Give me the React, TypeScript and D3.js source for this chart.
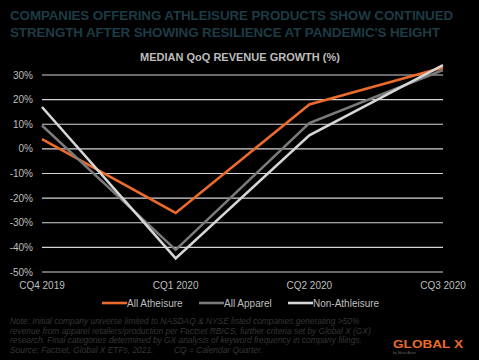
import React from "react";
import * as d3 from "d3";

const categories = ["CQ4 2019", "CQ1 2020", "CQ2 2020", "CQ3 2020"];
const allAthleisure = [4, -26, 18, 33];
const allApparel = [9.5, -41, 10.5, 32];
const nonAthleisure = [17, -44.5, 5.5, 34];
const yTicks = [30, 20, 10, 0, -10, -20, -30, -40, -50];
const seriesNames = ["All Atheisure", "All Apparel", "Non-Athleisure"];
const seriesColors = ["#ec6a2c", "#7a7a7a", "#d6d6d6"];
const titleLines = [
  "COMPANIES OFFERING ATHLEISURE PRODUCTS SHOW CONTINUED",
  "STRENGTH AFTER SHOWING RESILIENCE AT PANDEMIC'S HEIGHT",
];
const noteLines = [
  "Note: Initial company universe limited to NASDAQ & NYSE listed companies generating >50%",
  "revenue from apparel retailers/production per Factset RBICS; further criteria set by Global X (GX)",
  "research. Final categories determined by GX analysis of keyword frequency in company filings.",
  "Source: Factset, Global X ETFs, 2021.",
];
const noteExtra = "CQ = Calendar Quarter.";

export default function App() {
  const W = 479, H = 360;
  const x = d3.scalePoint<string>().domain(categories).range([42, 443]);
  const y = d3.scaleLinear().domain([-50, 30]).range([272, 75]);
  const line = d3
    .line<number>()
    .x((_, i) => x(categories[i]) as number)
    .y((d) => y(d));
  const series = [allAthleisure, allApparel, nonAthleisure];
  const legendX = [102, 199, 288];
  const font = "Arial, 'Liberation Sans', Helvetica, sans-serif";
  return (
    <svg
      width={W}
      height={H}
      style={{ position: "absolute", left: 0, top: 0, background: "#000" }}
      fontFamily={font}
    >
      <rect x={0} y={0} width={W} height={H} fill="#000" />
      {titleLines.map((t, i) => (
        <text
          key={i}
          x={10}
          y={20 + i * 17}
          fill="#1d3b45"
          fontWeight="bold"
          fontSize={13.4}
          letterSpacing={-0.1}
        >
          {t}
        </text>
      ))}
      <text x={240} y={61} textAnchor="middle" fill="#bdbdbd" fontWeight="bold" fontSize={11}>
        MEDIAN QoQ REVENUE GROWTH (%)
      </text>
      {yTicks.map((t) => (
        <g key={t}>
          <line x1={42} x2={443} y1={y(t)} y2={y(t)} stroke="#d4d4d4" strokeWidth={1.2} />
          <text x={33} y={y(t) + 3.5} textAnchor="end" fill="#bfbfbf" fontSize={10}>
            {t}%
          </text>
        </g>
      ))}
      {categories.map((c) => (
        <text key={c} x={x(c)} y={289} textAnchor="middle" fill="#bfbfbf" fontSize={10}>
          {c}
        </text>
      ))}
      {series.map((s, i) => (
        <path
          key={i}
          d={line(s) || ""}
          fill="none"
          stroke={seriesColors[i]}
          strokeWidth={2.6}
          strokeLinejoin="miter"
        />
      ))}
      {seriesNames.map((n, i) => (
        <g key={n}>
          <line
            x1={legendX[i]}
            x2={legendX[i] + 25}
            y1={303}
            y2={303}
            stroke={seriesColors[i]}
            strokeWidth={2.6}
          />
          <text x={legendX[i] + 25} y={306.5} fill="#bfbfbf" fontSize={10}>
            {n}
          </text>
        </g>
      ))}
      {noteLines.map((t, i) => (
        <text key={i} x={10} y={324 + i * 9.7} fill="#363636" fontSize={8.4} fontStyle="italic">
          {t}
        </text>
      ))}
      <text x={174} y={324 + 3 * 9.7} fill="#363636" fontSize={8.4} fontStyle="italic">
        {noteExtra}
      </text>
      <text
        x={393}
        y={347.5}
        fill="#ec6a2c"
        fontWeight="bold"
        fontSize={11.5}
        textLength={70}
        lengthAdjust="spacingAndGlyphs"
      >
        GLOBAL X
      </text>
      <text x={393} y={354} fill="#666" fontSize={3.5}>
        by Mirae Asset
      </text>
    </svg>
  );
}
